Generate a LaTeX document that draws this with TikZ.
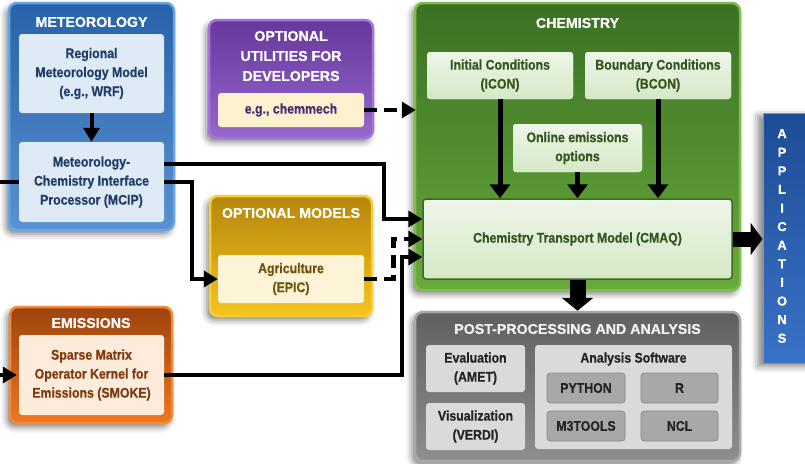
\documentclass[tikz,border=0pt]{standalone}
\usepackage{fontspec}
\setmainfont{Liberation Sans}[BoldFeatures={FakeBold=0.7}]
\newfontfamily\bodyfont{Liberation Sans}[FakeStretch=0.88, BoldFeatures={FakeBold=0.6}]
\usetikzlibrary{arrows.meta,shadows.blur}

% panel colours
\definecolor{metTop}{RGB}{40,98,168}
\definecolor{metBot}{RGB}{88,146,210}
\definecolor{metEdge}{RGB}{104,164,226}
\definecolor{metIn}{RGB}{222,234,246}
\definecolor{metTxt}{RGB}{34,62,104}
\definecolor{utTop}{RGB}{102,56,156}
\definecolor{utBot}{RGB}{150,104,206}
\definecolor{utEdge}{RGB}{160,118,214}
\definecolor{utIn}{RGB}{253,242,208}
\definecolor{utTxt}{RGB}{76,42,112}
\definecolor{omTop}{RGB}{182,134,12}
\definecolor{omBot}{RGB}{246,196,30}
\definecolor{omEdge}{RGB}{248,206,50}
\definecolor{omIn}{RGB}{253,243,214}
\definecolor{omTxt}{RGB}{112,84,14}
\definecolor{emTop}{RGB}{158,68,14}
\definecolor{emBot}{RGB}{238,118,34}
\definecolor{emEdge}{RGB}{246,136,52}
\definecolor{emIn}{RGB}{253,235,220}
\definecolor{emTxt}{RGB}{128,58,14}
\definecolor{chTop}{RGB}{58,112,36}
\definecolor{chBot}{RGB}{104,170,58}
\definecolor{chEdge}{RGB}{126,188,78}
\definecolor{chInTop}{RGB}{238,246,232}
\definecolor{chInBot}{RGB}{212,232,198}
\definecolor{chLine}{RGB}{60,104,36}
\definecolor{chTxt}{RGB}{52,84,32}
\definecolor{ppTop}{RGB}{96,96,96}
\definecolor{ppBot}{RGB}{142,142,142}
\definecolor{ppEdge}{RGB}{168,168,168}
\definecolor{ppIn}{RGB}{218,218,218}
\definecolor{ppSub}{RGB}{168,168,168}
\definecolor{ppTxt}{RGB}{36,36,36}
\definecolor{apTop}{RGB}{30,76,150}
\definecolor{apBot}{RGB}{58,114,200}

\tikzset{
  panel/.style n args={3}{rectangle, rounded corners=8pt, inner sep=0pt,
    top color=#1, bottom color=#2, draw=#3, line width=2.5pt,
    blur shadow={shadow xshift=-3pt, shadow yshift=-4pt,
      shadow blur radius=6pt, shadow opacity=50}},
  inbox/.style 2 args={rectangle, rounded corners=3pt, inner sep=0pt,
    fill=#1, text=#2, align=center,
    font=\bodyfont\bfseries\fontsize{14}{19}\selectfont},
  ttl/.style={text=white, align=center, inner sep=0pt,
    font=\bfseries\fontsize{14.2}{20}\selectfont},
  conn/.style={line width=4pt, -{Triangle[length=14pt,width=16pt]}},
  plainconn/.style={line width=4pt},
  dashconn/.style={line width=4.5pt, dash pattern=on 13pt off 7pt,
    -{Triangle[length=14pt,width=16pt]}},
  inarrow/.style={line width=5pt, -{Triangle[length=14pt,width=20pt]}},
  blockarrow/.style={line width=15pt, -{Triangle[length=12pt,width=32pt]}},
}

\begin{document}
\begin{tikzpicture}[x=1pt,y=-1pt]
\useasboundingbox (0,0) rectangle (805,463);

% ---------------- meteorology ----------------
\node[panel={metTop}{metBot}{metEdge}, minimum width=165pt, minimum height=227pt]
  (met) at (91.5,116.5) {};
\node[ttl] (metT) at (91.5,22) {METEOROLOGY};
\node[inbox={metIn}{metTxt}, minimum width=145pt, minimum height=79pt]
  (wrf) at (91.5,73.5) {Regional\\Meteorology Model\\(e.g., WRF)};
\node[inbox={metIn}{metTxt}, minimum width=145pt, minimum height=80pt]
  (mcip) at (91.5,182) {Meteorology-\\Chemistry Interface\\Processor (MCIP)};

% ---------------- optional utilities ----------------
\node[panel={utTop}{utBot}{utEdge}, minimum width=164pt, minimum height=118pt]
  (util) at (291,79) {};
\node[ttl] (utilT) at (291,56) {OPTIONAL\\UTILITIES FOR\\DEVELOPERS};
\node[inbox={utIn}{utTxt}, minimum width=146pt, minimum height=34pt]
  (chemmech) at (291,110) {e.g., chemmech};

% ---------------- optional models ----------------
\node[panel={omTop}{omBot}{omEdge}, minimum width=162pt, minimum height=120pt]
  (optm) at (291,256) {};
\node[ttl] (optmT) at (291,213) {OPTIONAL MODELS};
\node[inbox={omIn}{omTxt}, minimum width=146pt, minimum height=48pt]
  (epic) at (291,279) {Agriculture\\(EPIC)};

% ---------------- emissions ----------------
\node[panel={emTop}{emBot}{emEdge}, minimum width=162pt, minimum height=116pt]
  (emis) at (91,365) {};
\node[ttl] (emisT) at (91,323) {EMISSIONS};
\node[inbox={emIn}{emTxt}, minimum width=145pt, minimum height=80pt]
  (smoke) at (91.5,375) {Sparse Matrix\\Operator Kernel for\\Emissions (SMOKE)};

% ---------------- chemistry ----------------
\node[panel={chTop}{chBot}{chEdge}, minimum width=325pt, minimum height=287pt]
  (chem) at (577.5,146.5) {};
\node[ttl] (chemT) at (577.5,23) {CHEMISTRY};
\node[inbox={chInTop}{chTxt}, top color=chInTop, bottom color=chInBot,
  minimum width=146pt, minimum height=47pt]
  (icon) at (500,75.5) {Initial Conditions\\(ICON)};
\node[inbox={chInTop}{chTxt}, top color=chInTop, bottom color=chInBot,
  minimum width=146pt, minimum height=47pt]
  (bcon) at (658,75.5) {Boundary Conditions\\(BCON)};
\node[inbox={chInTop}{chTxt}, top color=chInTop, bottom color=chInBot,
  minimum width=129pt, minimum height=48pt]
  (online) at (577.5,148) {Online emissions\\options};
\node[inbox={chInTop}{chTxt}, top color=chInTop, bottom color=chInBot,
  draw=chLine, line width=1.5pt, minimum width=309pt, minimum height=80pt]
  (cmaq) at (577.5,239) {Chemistry Transport Model (CMAQ)};

% ---------------- post-processing ----------------
\node[panel={ppTop}{ppBot}{ppEdge}, minimum width=325pt, minimum height=149pt]
  (post) at (577.5,386.5) {};
\node[ttl, text=white!95!black] (postT) at (577.5,329) {POST-PROCESSING AND ANALYSIS};
\node[inbox={ppIn}{ppTxt}, minimum width=99pt, minimum height=47pt]
  (eval) at (475.5,368.5) {Evaluation\\(AMET)};
\node[inbox={ppIn}{ppTxt}, minimum width=99pt, minimum height=47pt]
  (vis) at (475.5,426.5) {Visualization\\(VERDI)};
\node[inbox={ppIn}{ppTxt}, minimum width=197pt, minimum height=104pt]
  (anasw) at (633.5,397) {};
\node[text=ppTxt, inner sep=0pt, font=\bodyfont\bfseries\fontsize{14}{19}\selectfont]
  (anaswT) at (633.5,359) {Analysis Software};
\node[inbox={ppSub}{ppTxt}, draw=ppSub!80!black, line width=0.6pt,
  minimum width=78pt, minimum height=30pt] (python) at (586,388) {PYTHON};
\node[inbox={ppSub}{ppTxt}, draw=ppSub!80!black, line width=0.6pt,
  minimum width=77pt, minimum height=30pt] (rlang) at (679.5,388) {R};
\node[inbox={ppSub}{ppTxt}, draw=ppSub!80!black, line width=0.6pt,
  minimum width=78pt, minimum height=30pt] (m3tools) at (586,426) {M3TOOLS};
\node[inbox={ppSub}{ppTxt}, draw=ppSub!80!black, line width=0.6pt,
  minimum width=77pt, minimum height=30pt] (ncl) at (679.5,426) {NCL};

% ---------------- applications ----------------
\node[rectangle, inner sep=0pt, top color=apTop, bottom color=apBot,
  draw=apTop!60!white, line width=1pt, minimum width=49pt, minimum height=250pt,
  blur shadow={shadow xshift=-5pt, shadow yshift=-3pt,
    shadow blur radius=7pt, shadow opacity=50}]
  (apps) at (787.5,238) {};
\node[text=white, align=center, inner sep=0pt,
  font=\bfseries\fontsize{13}{18.6}\selectfont]
  (appsT) at (782,236) {A\\P\\P\\L\\I\\C\\A\\T\\I\\O\\N\\S};

% ---------------- connectors ----------------
\coordinate (metIn) at (0,182);
\coordinate (emisIn) at (0,375);
\draw[plainconn] (metIn) -- (mcip.west);
\draw[conn] (emisIn) -- ([xshift=-2pt]smoke.west);

\draw[conn] (wrf.south) -- (mcip.north);

\draw[conn] ([yshift=18pt]mcip.east) -| ([xshift=-38pt,yshift=20pt]cmaq.west)
  -- ([yshift=20pt]cmaq.west);
\draw[conn] (mcip.east) -| ([xshift=-26pt]epic.west) -- (epic.west);
\draw[dashconn] (epic.east) -| ([xshift=-29pt]cmaq.west) -- (cmaq.west);
\draw[conn] (smoke.east) -| ([xshift=-20pt,yshift=-18pt]cmaq.west)
  -- ([yshift=-18pt]cmaq.west);
\draw[dashconn] (chemmech.east) -- ([xshift=2pt]chemmech.east -| chem.west);

\draw[inarrow] (icon.south) -- (icon.south |- cmaq.north);
\draw[inarrow] (online.south) -- (online.south |- cmaq.north);
\draw[inarrow] (bcon.south) -- (bcon.south |- cmaq.north);

\draw[blockarrow] (cmaq.east) -- (cmaq.east -| apps.west);
\draw[blockarrow, line width=16pt, -{Triangle[length=13pt,width=31pt]}]
  (cmaq.south) -- (cmaq.south |- post.north);

\end{tikzpicture}
\end{document}
